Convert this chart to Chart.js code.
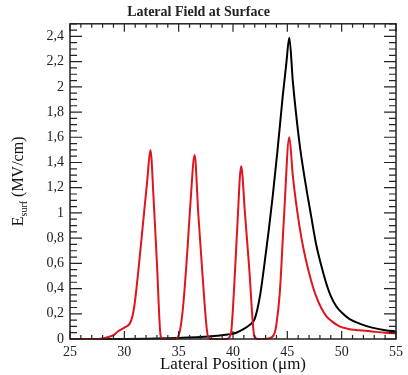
<!DOCTYPE html>
<html>
<head>
<meta charset="utf-8">
<script src="https://cdn.jsdelivr.net/npm/chart.js@4"></script>
<style>
  html, body { margin: 0; padding: 0; background: #fff; }
  #wrap { width: 408px; height: 375px; }
</style>
</head>
<body>
<div id="wrap"><canvas id="myChart" width="408" height="375"></canvas></div>
<script>
// values
const redX = [25, 26, 27, 28, 29.0, 29.4, 30.0, 30.6, 30.9, 31.3, 31.7, 32.1, 32.4, 32.7, 33.0, 33.35, 33.6,
  34.7, 35.1, 35.4, 35.8, 36.1, 36.47, 36.8, 37.2, 37.7, 38.0,
  39.4, 39.8, 40.1, 40.4, 40.75, 41.1, 41.5, 41.97, 42.3,
  43.3, 43.8, 44.0, 44.3, 44.7, 45.18, 45.5, 45.9, 46.3, 46.7, 47.2, 47.6, 48.1, 48.6, 49.1, 49.8, 50.6, 51.6, 52.8, 54, 55];
const redY = [0, 0, 0, 0.005, 0.03, 0.06, 0.09, 0.14, 0.25, 0.55, 0.9, 1.25, 1.5, 1.1, 0.6, 0.02, 0,
  0, 0.06, 0.25, 0.7, 1.1, 1.46, 1.0, 0.5, 0.02, 0,
  0, 0.04, 0.4, 0.9, 1.37, 1.0, 0.55, 0.02, 0,
  0.005, 0.04, 0.12, 0.36, 0.98, 1.6, 1.3, 1.02, 0.8, 0.63, 0.46, 0.35, 0.25, 0.18, 0.14, 0.1, 0.08, 0.07, 0.06, 0.05, 0.045];

const blackX = [25, 30, 33, 35, 37, 38.5, 39.5, 40.3, 41, 41.5, 42, 42.5, 42.9, 43.3, 43.65, 44.1, 44.57, 44.9, 45.18,
  45.5, 45.8, 46.2, 46.72, 47.2, 47.63, 48.1, 48.55, 49.0, 49.5, 50.0, 50.7, 51.7, 52.8, 54, 55];
const blackY = [0, 0, 0.003, 0.008, 0.015, 0.025, 0.035, 0.05, 0.08, 0.11, 0.16, 0.35, 0.6, 0.87, 1.13, 1.5, 1.92, 2.18, 2.39,
  2.05, 1.79, 1.5, 1.21, 0.97, 0.76, 0.59, 0.45, 0.34, 0.26, 0.21, 0.16, 0.12, 0.09, 0.07, 0.06];

const xTicks = [25, 30, 35, 40, 45, 50, 55];
const yTicks = [0, 0.2, 0.4, 0.6, 0.8, 1, 1.2, 1.4, 1.6, 1.8, 2, 2.2, 2.4];

const serif = '"Liberation Serif", "DejaVu Serif", serif';

function toPoints(xs, ys) {
  return xs.map((x, i) => ({ x: x, y: ys[i] }));
}

// frame with inward major/minor ticks on all four sides, plus the y title
const frameTicks = {
  id: 'frameTicks',
  afterDatasetsDraw(chart) {
    const ctx = chart.ctx;
    const a = chart.chartArea;
    const xs = chart.scales.x, ys = chart.scales.y;
    ctx.save();
    ctx.strokeStyle = '#222';
    ctx.lineWidth = 1.5;
    ctx.strokeRect(a.left, a.top, a.right - a.left, a.bottom - a.top);
    ctx.lineWidth = 1.2;
    ctx.beginPath();
    for (let v = 25; v <= 55; v += 1) {
      const px = xs.getPixelForValue(v);
      const len = v % 5 === 0 ? 8 : 4;
      ctx.moveTo(px, a.bottom); ctx.lineTo(px, a.bottom - len);
      ctx.moveTo(px, a.top); ctx.lineTo(px, a.top + len);
    }
    for (let i = 0; i <= 50; i++) {
      const v = i * 0.05;
      const py = ys.getPixelForValue(v);
      const len = i % 4 === 0 ? 12 : 7;
      ctx.moveTo(a.left, py); ctx.lineTo(a.left + len, py);
      ctx.moveTo(a.right, py); ctx.lineTo(a.right - len, py);
    }
    ctx.stroke();

    // y axis title with subscript
    const cy = (a.top + a.bottom) / 2;
    ctx.translate(23, cy);
    ctx.rotate(-Math.PI / 2);
    ctx.fillStyle = '#111';
    ctx.textBaseline = 'alphabetic';
    const big = '16px ' + serif, small = '10px ' + serif;
    ctx.font = big; const w1 = ctx.measureText('E').width;
    ctx.font = small; const w2 = ctx.measureText('surf').width;
    ctx.font = big; const w3 = ctx.measureText(' (MV/cm)').width;
    let x0 = -(w1 + w2 + w3) / 2;
    ctx.font = big; ctx.fillText('E', x0, 0); x0 += w1;
    ctx.font = small; ctx.fillText('surf', x0, 4); x0 += w2;
    ctx.font = big; ctx.fillText(' (MV/cm)', x0, 0);
    ctx.restore();
  }
};

const ctx = document.getElementById('myChart').getContext('2d');

new Chart(ctx, {
  type: 'line',
  data: {
    datasets: [{
      label: 'red',
      data: toPoints(redX, redY),
      borderColor: '#e0141c',
      borderWidth: 2,
      pointRadius: 0,
      cubicInterpolationMode: 'monotone',
      clip: 4
    }, {
      label: 'black',
      data: toPoints(blackX, blackY),
      borderColor: '#000',
      borderWidth: 2,
      pointRadius: 0,
      cubicInterpolationMode: 'monotone',
      clip: 4
    }]
  },
  options: {
    responsive: false,
    animation: false,
    layout: { padding: { left: 0, right: 11, top: 0, bottom: 0 } },
    plugins: {
      legend: { display: false },
      tooltip: { enabled: false },
      title: {
        display: true,
        text: 'Lateral Field at Surface',
        color: '#222',
        font: { family: serif, size: 14, weight: 'bold' },
        padding: { top: 4, bottom: 3 }
      }
    },
    scales: {
      x: {
        type: 'linear',
        min: 25,
        max: 55,
        grid: { display: false, drawTicks: false },
        border: { display: false },
        afterBuildTicks: scale => { scale.ticks = xTicks.map(v => ({ value: v })); },
        afterFit: scale => { scale.height = 36; },
        ticks: {
          color: '#222',
          padding: 5,
          maxRotation: 0,
          font: { family: serif, size: 14 }
        },
        title: {
          display: true,
          text: 'Lateral Position (\u03bcm)',
          color: '#111',
          font: { family: serif, size: 17 },
          padding: { top: 0, bottom: 0 }
        }
      },
      y: {
        min: 0,
        max: 2.5,
        grid: { display: false, drawTicks: false },
        border: { display: false },
        afterBuildTicks: scale => { scale.ticks = yTicks.map(v => ({ value: v })); },
        afterFit: scale => { scale.width = 70; },
        ticks: {
          color: '#222',
          padding: 6,
          font: { family: serif, size: 14 },
          callback: v => String(Math.round(v * 10) / 10).replace('.', ',')
        }
      }
    }
  },
  plugins: [frameTicks]
});
</script>
</body>
</html>
